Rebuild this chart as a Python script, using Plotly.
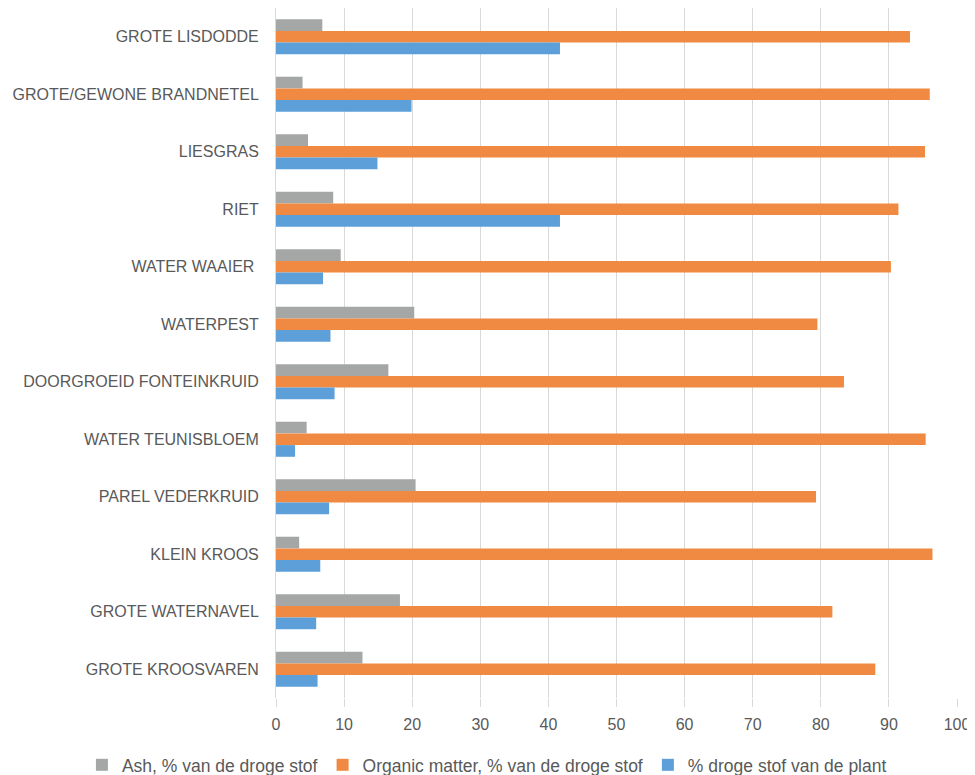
import plotly.graph_objects as go

categories = [
    "GROTE LISDODDE",
    "GROTE/GEWONE BRANDNETEL",
    "LIESGRAS",
    "RIET",
    "WATER WAAIER ",
    "WATERPEST",
    "DOORGROEID FONTEINKRUID",
    "WATER TEUNISBLOEM",
    "PAREL VEDERKRUID",
    "KLEIN KROOS",
    "GROTE WATERNAVEL",
    "GROTE KROOSVAREN",
]
ash = [6.8, 3.9, 4.7, 8.4, 9.5, 20.3, 16.5, 4.5, 20.5, 3.4, 18.2, 12.7]
organic = [93.1, 96.0, 95.3, 91.4, 90.3, 79.5, 83.4, 95.4, 79.3, 96.4, 81.7, 88.0]
dry = [41.7, 19.9, 14.9, 41.7, 6.9, 8.0, 8.6, 2.8, 7.8, 6.5, 5.9, 6.1]

names = ["Ash, % van de droge stof", "Organic matter, % van de droge stof", "% droge stof van de plant"]
colors = ["#A5A7A7", "#F08A42", "#5D9FD8"]

FONT = "Liberation Sans, Arial, sans-serif"

fig = go.Figure()
for name, vals, col in zip(names, [ash, organic, dry], colors):
    fig.add_trace(go.Bar(
        y=categories, x=vals, name=name, orientation="h",
        marker=dict(color=col, line=dict(width=0)),
    ))

# the page body has an 8px margin, so the figure is 8px smaller on each axis
fig.update_layout(
    width=967, height=767,
    barmode="group", bargap=0.39, bargroupgap=0,
    plot_bgcolor="white", paper_bgcolor="white",
    margin=dict(l=268, r=18, t=0, b=77, autoexpand=False),
    font=dict(family=FONT, color="#595959", size=16),
    showlegend=True,
    legend=dict(orientation="h", x=-0.285, xanchor="left", y=-0.097, yanchor="middle",
                font=dict(size=17.5, color="#595959"),
                traceorder="normal", bgcolor="rgba(0,0,0,0)"),
)
fig.update_xaxes(range=[0, 100], dtick=10, showgrid=True, gridcolor="#D9D9D9", gridwidth=1,
                 zeroline=False, showline=False, ticks="outside", ticklen=8, tickcolor="#D9D9D9",
                 tickfont=dict(size=16, color="#595959"),
                 ticklabelstandoff=4, automargin=False, fixedrange=True)
fig.update_yaxes(autorange="reversed", showgrid=False, showline=True, linecolor="#D9D9D9",
                 ticks="", tickfont=dict(size=16, color="#595959"), ticklabelstandoff=13,
                 automargin=False, fixedrange=True)

fig.write_html("out.html")
